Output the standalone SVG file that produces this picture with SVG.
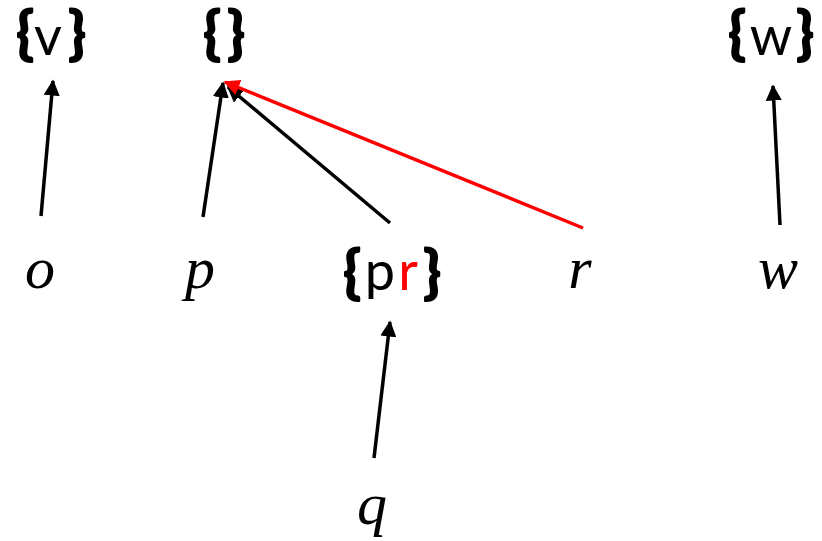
<svg xmlns="http://www.w3.org/2000/svg" width="822" height="541" viewBox="0 0 822 541">
<style>
.s{font-family:Lato,"Open Sans","Liberation Sans",sans-serif;text-anchor:middle;fill:#000}
.br{font-weight:bold;font-size:58px;stroke:#000;stroke-width:1.8;stroke-linejoin:round}
.lt{font-size:54px}
.rd{fill:#f00}
.var{font-family:"Liberation Serif","DejaVu Serif",serif;font-style:italic;font-size:60px;fill:#000;text-anchor:middle}
.e{stroke:#000;stroke-width:3.5;fill:none}
.red{stroke:#f00}
</style>
<defs>
<marker id="ah" viewBox="0 0 10 10" refX="9" refY="5" markerWidth="4.6" markerHeight="4.6" orient="auto" markerUnits="strokeWidth"><path d="M0,0 L10,5 L0,10 z" fill="#000"/></marker>
<marker id="ahr" viewBox="0 0 10 10" refX="9" refY="5" markerWidth="4.6" markerHeight="4.6" orient="auto" markerUnits="strokeWidth"><path d="M0,0 L10,5 L0,10 z" fill="#f00"/></marker>
</defs>
<g id="n-v">
<text class="s br" x="25" y="53">{</text><text class="s lt" x="48" y="55">v</text><text class="s br" x="77" y="53">}</text>
</g>
<g id="n-empty">
<text class="s br" x="212" y="53">{</text><text class="s br" x="236" y="53">}</text>
</g>
<g id="n-w">
<text class="s br" x="737" y="53">{</text><text class="s lt" x="771" y="55">w</text><text class="s br" x="805" y="53">}</text>
</g>
<g id="n-pr">
<text class="s br" x="352" y="292">{</text><text class="s lt" x="380" y="290">p</text><text class="s lt rd" x="408" y="290">r</text><text class="s br" x="432" y="292">}</text>
</g>
<g id="n-o"><text class="var" x="40" y="288">o</text></g>
<g id="n-p"><text class="var" x="200" y="288">p</text></g>
<g id="n-r"><text class="var" x="580" y="288">r</text></g>
<g id="n-wv"><text class="var" x="778" y="288">w</text></g>
<g id="n-q"><text class="var" x="372" y="524">q</text></g>
<g id="edges">
<line class="e" x1="41" y1="216" x2="53" y2="81" marker-end="url(#ah)"/>
<line class="e" x1="203" y1="217" x2="223" y2="83" marker-end="url(#ah)"/>
<line class="e" x1="390" y1="223" x2="228" y2="87" marker-end="url(#ah)"/>
<line class="e red" x1="583" y1="228" x2="225" y2="82" marker-end="url(#ahr)"/>
<line class="e" x1="780" y1="225" x2="773" y2="86" marker-end="url(#ah)"/>
<line class="e" x1="374" y1="458" x2="390" y2="322" marker-end="url(#ah)"/>
</g>
</svg>
